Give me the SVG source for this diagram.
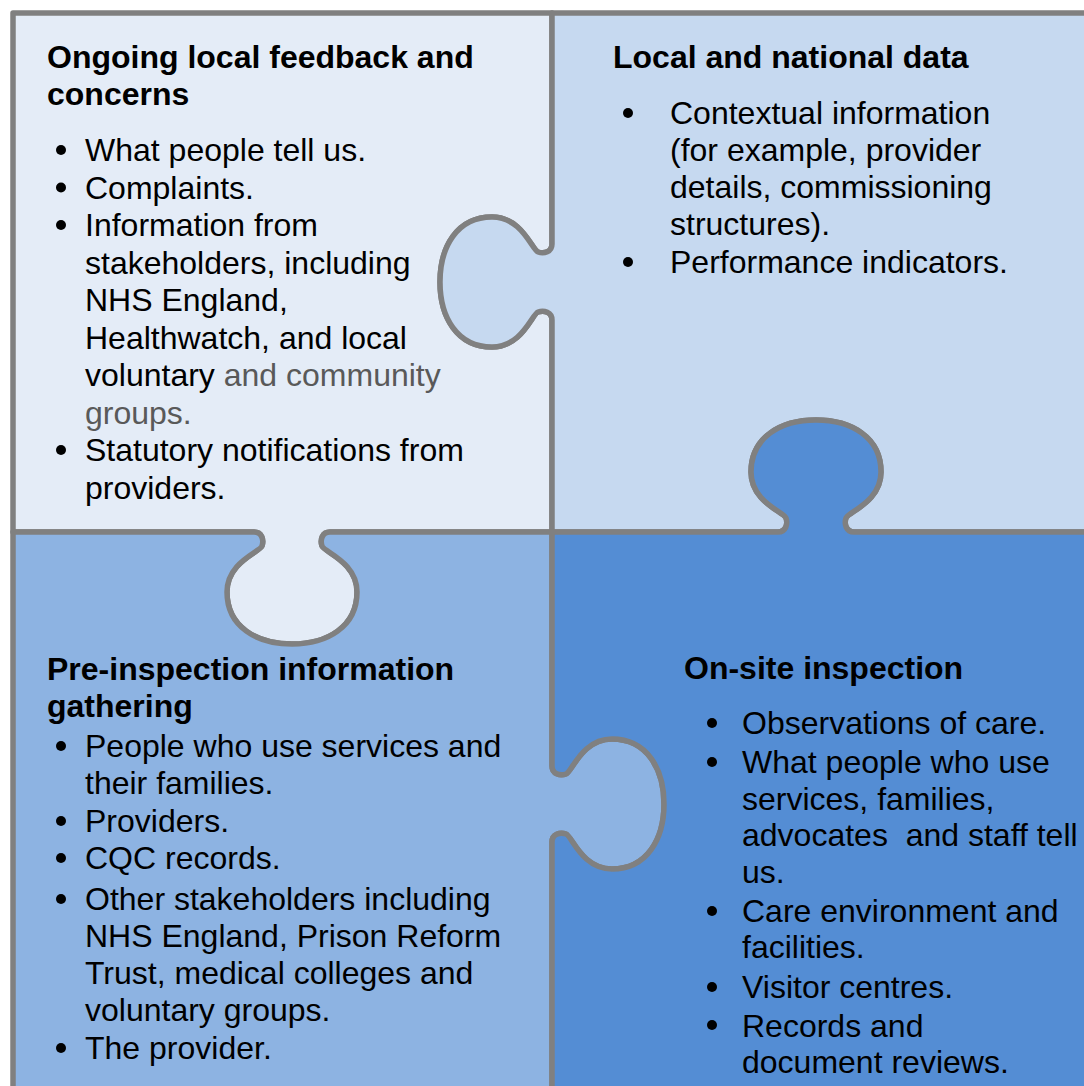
<svg xmlns="http://www.w3.org/2000/svg" width="1084" height="1086" viewBox="0 0 1084 1086">
<style>
.piece{stroke:#808080;stroke-width:5.5;stroke-linejoin:round}
.h{font-family:"Liberation Sans",Arial,sans-serif;font-size:32px;font-weight:bold;fill:#000}
.t{font-family:"Liberation Sans",Arial,sans-serif;font-size:32px;fill:#000;white-space:pre}
.g{fill:#595959}
.dot{fill:#000}
</style>
<rect width="1084" height="1086" fill="#ffffff"/>
<g id="connectors"/>
<g id="ongoing-feedback">
<path class="piece" fill="#E4ECF7" d="M13,13 L552,13 L552,244 C552,252 544,254 538,252 C532,250 522,217 492,217 C457,217 440,247 440,282 C440,317 457,347 492,347 C522,347 532,314 538,312 C544,310 552,312 552,320 L552,532 L330,532 C322,532 320,540 322,546 C324,552 357,562 357,592 C357,627 327,644 292,644 C257,644 227,627 227,592 C227,562 260,552 262,546 C264,540 262,532 254,532 L13,532 Z"/>
</g>
<g id="local-national-data">
<path class="piece" fill="#C6D9F0" d="M552,13 L1092,13 L1092,532 L854,532 C846,532 844,524 846,518 C848,512 881,502 881,472 C881,437 851,420 816,420 C781,420 751,437 751,472 C751,502 784,512 786,518 C788,524 786,532 778,532 L552,532 L552,320 C552,312 544,310 538,312 C532,314 522,347 492,347 C457,347 440,317 440,282 C440,247 457,217 492,217 C522,217 532,250 538,252 C544,254 552,252 552,244 Z"/>
</g>
<g id="pre-inspection">
<path class="piece" fill="#8DB3E2" d="M13,532 L254,532 C262,532 264,540 262,546 C260,552 227,562 227,592 C227,627 257,644 292,644 C327,644 357,627 357,592 C357,562 324,552 322,546 C320,540 322,532 330,532 L552,532 L552,766 C552,774 560,776 566,774 C572,772 582,739 612,739 C647,739 664,769 664,804 C664,839 647,869 612,869 C582,869 572,836 566,834 C560,832 552,834 552,842 L552,1092 L13,1092 Z"/>
</g>
<g id="on-site-inspection">
<path class="piece" fill="#548DD4" d="M552,532 L778,532 C786,532 788,524 786,518 C784,512 751,502 751,472 C751,437 781,420 816,420 C851,420 881,437 881,472 C881,502 848,512 846,518 C844,524 846,532 854,532 L1092,532 L1092,1092 L552,1092 L552,842 C552,834 560,832 566,834 C572,836 582,869 612,869 C647,869 664,839 664,804 C664,769 647,739 612,739 C582,739 572,772 566,774 C560,776 552,774 552,766 Z"/>
</g>
<g id="ongoing-feedback-text">
<text class="h" x="47" y="68">Ongoing local feedback and</text>
<text class="h" x="47" y="105">concerns</text>
<circle class="dot" cx="61" cy="150" r="5"/>
<circle class="dot" cx="61" cy="187.5" r="5"/>
<circle class="dot" cx="61" cy="225" r="5"/>
<circle class="dot" cx="61" cy="450" r="5"/>
<text class="t" x="85" y="161">What people tell us.</text>
<text class="t" x="85" y="198.5">Complaints.</text>
<text class="t" x="85" y="236">Information from</text>
<text class="t" x="85" y="273.5">stakeholders, including</text>
<text class="t" x="85" y="311">NHS England,</text>
<text class="t" x="85" y="348.5">Healthwatch, and local</text>
<text class="t" x="85" y="386">voluntary <tspan class="g">and community</tspan></text>
<text class="t g" x="85" y="423.5">groups.</text>
<text class="t" x="85" y="461">Statutory notifications from</text>
<text class="t" x="85" y="498.5">providers.</text>
</g>
<g id="local-national-data-text">
<text class="h" x="613" y="68">Local and national data</text>
<circle class="dot" cx="628" cy="113" r="5"/>
<circle class="dot" cx="628" cy="262" r="5"/>
<text class="t" x="670" y="124">Contextual information</text>
<text class="t" x="670" y="161">(for example, provider</text>
<text class="t" x="670" y="198">details, commissioning</text>
<text class="t" x="670" y="235">structures).</text>
<text class="t" x="670" y="273">Performance indicators.</text>
</g>
<g id="pre-inspection-text">
<text class="h" x="47" y="680">Pre-inspection information</text>
<text class="h" x="47" y="717">gathering</text>
<circle class="dot" cx="61" cy="746" r="5"/>
<circle class="dot" cx="61" cy="821" r="5"/>
<circle class="dot" cx="61" cy="858" r="5"/>
<circle class="dot" cx="61" cy="899" r="5"/>
<circle class="dot" cx="61" cy="1048" r="5"/>
<text class="t" x="85" y="757">People who use services and</text>
<text class="t" x="85" y="794">their families.</text>
<text class="t" x="85" y="832">Providers.</text>
<text class="t" x="85" y="869">CQC records.</text>
<text class="t" x="85" y="910">Other stakeholders including</text>
<text class="t" x="85" y="947">NHS England, Prison Reform</text>
<text class="t" x="85" y="984">Trust, medical colleges and</text>
<text class="t" x="85" y="1021">voluntary groups.</text>
<text class="t" x="85" y="1059">The provider.</text>
</g>
<g id="on-site-inspection-text">
<text class="h" x="684" y="679">On-site inspection</text>
<circle class="dot" cx="712" cy="723" r="5"/>
<circle class="dot" cx="712" cy="762" r="5"/>
<circle class="dot" cx="712" cy="911" r="5"/>
<circle class="dot" cx="712" cy="987" r="5"/>
<circle class="dot" cx="712" cy="1025" r="5"/>
<text class="t" x="742" y="734">Observations of care.</text>
<text class="t" x="742" y="773">What people who use</text>
<text class="t" x="742" y="810">services, families,</text>
<text class="t" x="742" y="846">advocates  and staff tell</text>
<text class="t" x="742" y="883">us.</text>
<text class="t" x="742" y="922">Care environment and</text>
<text class="t" x="742" y="958">facilities.</text>
<text class="t" x="742" y="998">Visitor centres.</text>
<text class="t" x="742" y="1037">Records and</text>
<text class="t" x="742" y="1073">document reviews.</text>
</g>
</svg>
